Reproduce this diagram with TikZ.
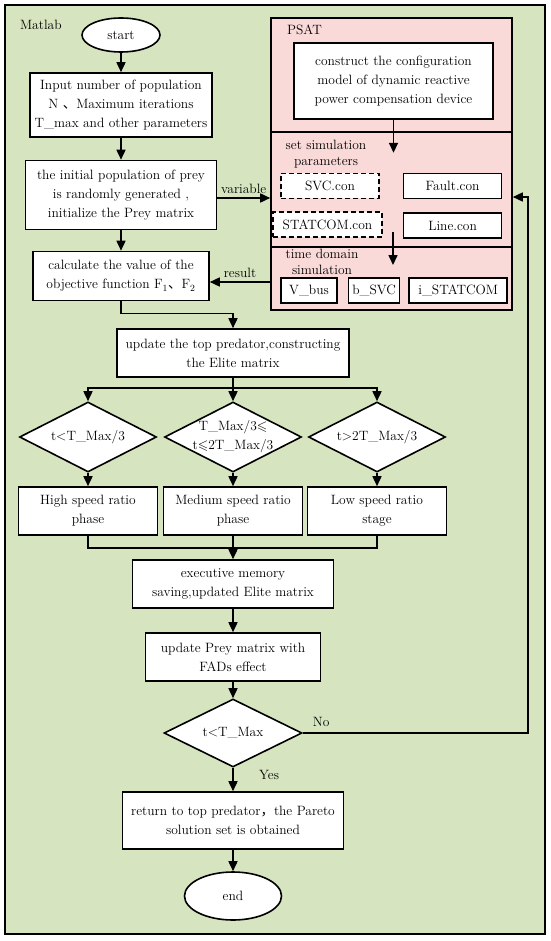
\documentclass[tikz,border=0pt]{standalone}
\usepackage{amsmath, amssymb}
\usepackage{fontspec}
\newfontfamily\cjk{Noto Sans CJK SC}
\usepackage{tikz}
\usetikzlibrary{positioning, shapes.geometric, arrows.meta}
\definecolor{mlgreen}{RGB}{214,229,191}
\definecolor{psatpink}{RGB}{249,218,216}

\begin{document}
\begin{tikzpicture}[x=1pt, y=1pt, node distance={80pt}, line width=1.6pt, >={Triangle[length=10pt,width=9pt]},
 font=\fontsize{13.5}{19}\selectfont,
 main/.style = {draw, fill=white, rectangle, align=center, inner sep=0pt},
 dec/.style = {draw, fill=white, diamond, aspect=2, inner sep=-6pt, minimum width=137pt, minimum height=70pt, align=center},
 term/.style = {draw, fill=white, ellipse, inner sep=0pt},
 con/.style = {draw, fill=white, rectangle, minimum height=25pt, inner sep=0pt},
 dsh/.style = {dash pattern=on 5pt off 3pt}]
\useasboundingbox (0,0) rectangle (550,-941);
\draw[fill=mlgreen, line width=1.3pt] (5,-5) rectangle (545,-934);
\node[anchor=west] (ml) at (16,-25) {Matlab};

\node[term, minimum width=78pt, minimum height=34pt] (st) at (121,-35) {start};
\node[main, minimum width=182pt, minimum height=64pt, below of=st, node distance=70pt] (ip) {Input number of population\\N {\cjk 、}Maximum iterations\\T\_max and other parameters};
\node[main, minimum width=191pt, minimum height=69pt, below of=ip, node distance=90pt] (ini) {the initial population of prey\\is randomly generated ,\\initialize the Prey matrix};
\node[main, minimum width=176pt, minimum height=49pt, below of=ini, node distance=81pt] (cl) {calculate the value of the\\objective function F\textsubscript{1}{\cjk 、}F\textsubscript{2}};

\node[draw, fill=psatpink, minimum width=241pt, minimum height=292pt, inner sep=0pt] (ps) at (391.5,-164) {};
\draw (ps.west |- 0,-132) -- (ps.east |- 0,-132);
\draw (ps.west |- 0,-247) -- (ps.east |- 0,-247);
\node[anchor=west] (pl) at (283,-30) {PSAT};
\node[main, minimum width=199pt, minimum height=76pt] (cs) at (393.5,-81) {construct the configuration\\model of dynamic reactive\\power compensation device};
\node[align=center, anchor=north, inner sep=0pt, font=\fontsize{13.5}{16}\selectfont] (sp) at (326,-139) {set simulation\\parameters};
\node[con, dsh, minimum width=98pt] (svc) at (330,-186) {SVC.con};
\node[con, minimum width=98pt, right=23pt of svc] (flt) {Fault.con};
\node[con, dsh, minimum width=109pt] (stc) at (327.5,-224.5) {STATCOM.con};
\node[con, minimum width=98pt, below=13pt of flt] (lc) {Line.con};
\node[align=center, anchor=north, inner sep=0pt, font=\fontsize{13.5}{16}\selectfont] (td) at (322,-248) {time domain\\simulation};
\node[con, minimum width=56pt] (vb) at (309,-290.5) {V\_bus};
\node[con, minimum width=51pt, right=10pt of vb] (bs) {b\_SVC};
\node[con, minimum width=98pt, right=8pt of bs] (is) {i\_STATCOM};

\node[main, minimum width=232pt, minimum height=48pt] (tp) at (233,-353) {update the top predator,constructing\\the Elite matrix};
\node[dec, below of=tp, node distance=84pt] (d2) {T\_Max/3$\leqslant$\\t$\leqslant$2T\_Max/3};
\node[dec, left of=d2, node distance=145pt] (d1) {t<T\_Max/3};
\node[dec, right of=d2, node distance=144pt] (d3) {t>2T\_Max/3};
\node[main, minimum width=139pt, minimum height=48pt, below of=d1, node distance=74pt] (h1) {High speed ratio\\phase};
\node[main, minimum width=139pt, minimum height=48pt, below of=d2, node distance=74pt] (m1) {Medium speed ratio\\phase};
\node[main, minimum width=139pt, minimum height=48pt, below of=d3, node distance=74pt] (l1) {Low speed ratio\\stage};
\node[main, minimum width=201pt, minimum height=48pt, below of=m1, node distance=73pt] (ex) {executive memory\\saving,updated Elite matrix};
\node[main, minimum width=175pt, minimum height=48pt, below of=ex, node distance=73pt] (up) {update Prey matrix with\\FADs effect};
\node[dec, minimum width=138pt, minimum height=68pt, below of=up, node distance=76pt] (d4) {t<T\_Max};
\node[main, minimum width=221pt, minimum height=57pt, below of=d4, node distance=87.5pt] (rt) {return to top predator{\cjk ，}the Pareto\\solution set is obtained};
\node[term, minimum width=97pt, minimum height=48pt, below of=rt, node distance=75.5pt] (en) {end};

\draw[->] (st) -- (ip);
\draw[->] (ip) -- (ini);
\draw[->] (ini) -- (cl);
\draw[->] ([yshift=-3pt]ini.east) -- ([yshift=-3pt]ini.east -| ps.west) node[midway, above] {variable};
\draw[<-] ([yshift=-6pt]cl.east) -- ([yshift=-6pt]cl.east -| ps.west) node[midway, above] {result};
\draw[->] (cs.south) -- ++(0,-33);
\coordinate (sm) at (393,-232);
\draw[->] (sm) -- ++(0,-33);
\draw[->] (cl.south) -- ++(0,-12) -| (tp.north);
\draw (tp.south) -- ++(0,-10) coordinate (br);
\draw[->] (br) -| (d1.north);
\draw[->] (br) -| (d3.north);
\draw[->] (br) -- (d2.north);
\draw[->] (d1) -- (h1);
\draw[->] (d2) -- (m1);
\draw[->] (d3) -- (l1);
\draw (h1.south) -- ++(0,-12) -| (l1.south);
\draw[->] (m1) -- (ex);
\draw[->] (ex) -- (up);
\draw[->] (up) -- (d4);
\draw[->] (d4) -- (rt) node[pos=0.3, right=22pt] {Yes};
\draw[->] (rt) -- (en);
\coordinate (fb) at (528,-197);
\draw[->] (d4.east) -| (fb) -- (fb -| ps.east);
\node[above right=2pt and 6pt of d4.east] (no) {No};

\end{tikzpicture}
\end{document}
